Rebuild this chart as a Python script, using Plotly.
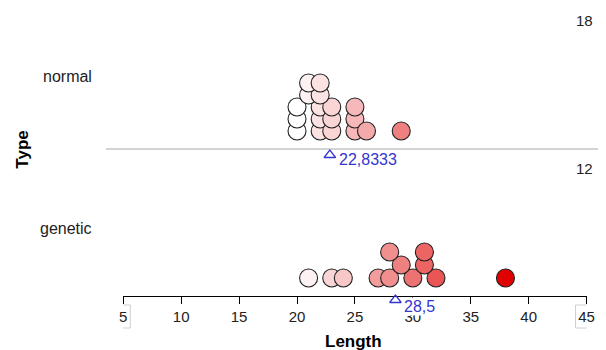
import numpy as np
import plotly.graph_objects as go

# ---- data (in the order the dots were placed) ----
categories = ["normal", "genetic"]
normal_len = [20, 20, 20, 22, 22, 22, 23, 23, 23, 25, 25, 25, 26, 29, 21, 22, 21, 22]
genetic_len = [21, 23, 24, 27, 28, 30, 32, 29, 28, 31, 31, 38]
tick_vals = [5, 10, 15, 20, 25, 30, 35, 40, 45]
x_title = "Length"
y_title = "Type"

W, H = 606, 350
AX_L, AX_R = 121.7, 594.3          # pixel span of axis 5..45
SEP_Y, AXIS_Y = 149, 296           # panel separator / x axis line
BASE_N, PITCH_N = 131, 12
BASE_G, PITCH_G = 278, 13
BOT_N, BOT_G = 172, 318            # lower edge of each (invisible) panel axis


def py(px):
    return 1 - px / H


def stack_levels(values):
    levels = []
    for i, x in enumerate(values):
        lv = 0
        for v, l in zip(values[:i], levels):
            if 0 <= v - x <= 1:
                lv = max(lv, l + 1)
        levels.append(lv)
    return levels


def fmt_mean(m):
    return f"{m:.4f}".rstrip("0").rstrip(".").replace(".", ",")


all_vals = normal_len + genetic_len
cmin, cmax = min(all_vals), max(all_vals)
cscale = [[0, "#ffffff"], [0.5, "#ef8080"], [1, "#e00000"]]

fig = go.Figure()
for vals, yax in [(normal_len, "y"), (genetic_len, "y2")]:
    fig.add_trace(go.Scatter(
        x=vals, y=stack_levels(vals), mode="markers", xaxis="x", yaxis=yax,
        marker=dict(size=18, color=vals, colorscale=cscale, cmin=cmin, cmax=cmax,
                    line=dict(color="#222222", width=1.1), showscale=False),
        hoverinfo="x", showlegend=False))

BLUE = "#3535d0"
mean_n, mean_g = float(np.mean(normal_len)), float(np.mean(genetic_len))
# mean triangles (just below each panel's baseline)
for m, yax, lvl in [(mean_n, "y", (BASE_N - 155) / PITCH_N), (mean_g, "y2", (BASE_G - 300) / PITCH_G)]:
    fig.add_trace(go.Scatter(x=[m], y=[lvl], xaxis="x", yaxis=yax,
                             mode="markers", cliponaxis=False, showlegend=False, hoverinfo="skip",
                             marker=dict(symbol="triangle-up-open", size=10, color=BLUE,
                                         line=dict(color=BLUE, width=1.3))))

TICKFONT = dict(family="Liberation Sans, Arial", size=15, color="#222222")
fig.update_layout(
    width=W, height=H, margin=dict(l=0, r=0, t=0, b=0),
    paper_bgcolor="white", plot_bgcolor="rgba(0,0,0,0)",
    xaxis=dict(domain=[AX_L / W, AX_R / W], range=[tick_vals[0], tick_vals[-1]],
               anchor="free", position=py(AXIS_Y), tickvals=tick_vals, ticks="outside",
               ticklen=7, tickcolor="black", showline=True, linecolor="black", linewidth=1,
               showgrid=False, zeroline=False, tickfont=TICKFONT, fixedrange=True),
    yaxis=dict(domain=[py(BOT_N), 1], range=[-(BOT_N - BASE_N) / PITCH_N, BASE_N / PITCH_N],
               visible=False, fixedrange=True),
    yaxis2=dict(domain=[py(BOT_G), py(SEP_Y)],
                range=[-(BOT_G - BASE_G) / PITCH_G, (BASE_G - SEP_Y) / PITCH_G],
                visible=False, fixedrange=True),
)

shapes = [
    dict(type="line", xref="paper", yref="paper", x0=104 / W, x1=1, y0=py(SEP_Y), y1=py(SEP_Y),
         line=dict(color="#a8a8a8", width=1), layer="below"),
    dict(type="rect", xref="x", yref="paper", xsizemode="pixel", xanchor=tick_vals[0],
         x0=-9, x1=7, y0=py(328), y1=py(305), line=dict(color="#cfcfcf", width=1)),
    dict(type="rect", xref="x", yref="paper", xsizemode="pixel", xanchor=tick_vals[-1],
         x0=-11, x1=11, y0=py(328), y1=py(305), line=dict(color="#cfcfcf", width=1)),
]
fig.update_layout(shapes=shapes)


def note(text, x, y, xref="paper", xanchor="center", **kw):
    d = dict(text=text, x=x, y=y, xref=xref, yref="paper", xanchor=xanchor,
             yanchor="middle", showarrow=False)
    d.update(kw)
    return d


LBL = dict(family="Liberation Sans, Arial", size=16, color="#222222")
CNT = dict(family="Liberation Sans, Arial", size=15, color="#222222")
MEANF = dict(family="Liberation Sans, Arial", size=16, color=BLUE)
ann = [
    note(f"<b>{x_title}</b>", 357 / W, py(341),
         font=dict(family="Liberation Sans, Arial", size=17, color="black")),
    note(f"<b>{y_title}</b>", 18 / W, py(150), textangle=-90,
         font=dict(family="Liberation Sans, Arial", size=17, color="black")),
    note(categories[0], 92 / W, py(77), xanchor="right", font=LBL),
    note(categories[1], 92 / W, py(228), xanchor="right", font=LBL),
    note(str(len(normal_len)), 603 / W, py(20), xanchor="right", font=CNT),
    note(str(len(genetic_len)), 603 / W, py(168), xanchor="right", font=CNT),
    note(fmt_mean(mean_n), mean_n, py(160), xref="x", xanchor="left", xshift=8,
         bgcolor="white", borderpad=0, font=MEANF),
    note(fmt_mean(mean_g), mean_g, py(306), xref="x", xanchor="left", xshift=8,
         bgcolor="white", borderpad=0, font=MEANF),
]
fig.update_layout(annotations=ann)

fig.write_html("out.html", config={"displayModeBar": False},
               post_script="document.body.style.margin='0';document.body.style.overflow='hidden';")
